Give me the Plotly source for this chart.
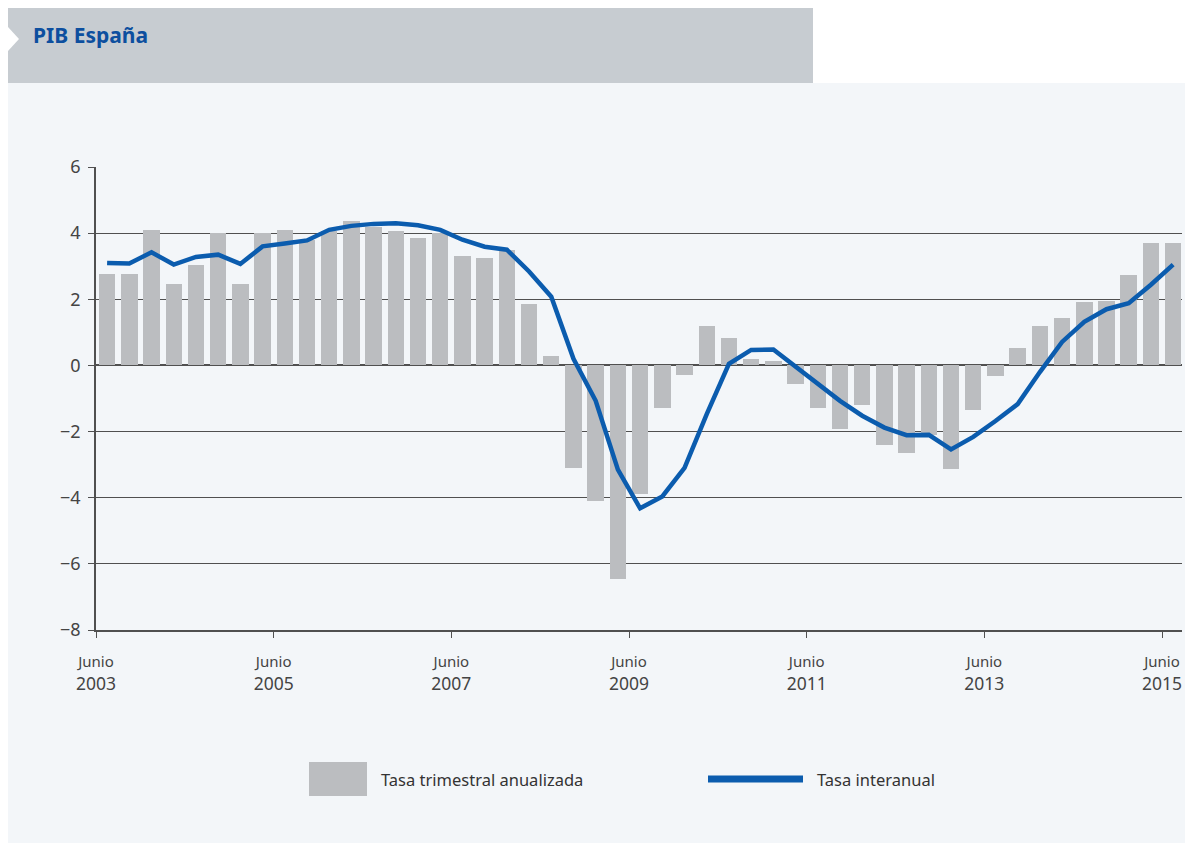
import plotly.graph_objects as go

# ---- data ----
quarter_index = list(range(49))  # Q2 2003 ... Q2 2015
tasa_trimestral = [2.75, 2.75, 4.1, 2.45, 3.05, 4.0, 2.45, 4.0, 4.1, 3.8,
                   4.05, 4.38, 4.2, 4.05, 3.85, 4.0, 3.3, 3.25, 3.5, 1.85,
                   0.3, -3.1, -4.1, -6.47, -3.9, -1.28, -0.3, 1.2, 0.82, 0.2,
                   0.12, -0.57, -1.28, -1.93, -1.2, -2.42, -2.64, -2.1, -3.12, -1.34,
                   -0.33, 0.54, 1.19, 1.42, 1.93, 1.95, 2.74, 3.7, 3.7]
tasa_interanual = [3.1, 3.08, 3.42, 3.05, 3.28, 3.35, 3.07, 3.6, 3.69, 3.78,
                   4.1, 4.22, 4.28, 4.3, 4.24, 4.1, 3.8, 3.59, 3.5, 2.84,
                   2.08, 0.2, -1.07, -3.15, -4.32, -3.96, -3.1, -1.47, 0.05, 0.47,
                   0.48, -0.05, -0.56, -1.07, -1.52, -1.88, -2.11, -2.1, -2.54, -2.16,
                   -1.68, -1.17, -0.2, 0.71, 1.32, 1.7, 1.88, 2.44, 3.05]
tick_positions = [-0.5, 7.5, 15.5, 23.5, 31.5, 39.5, 47.5]
tick_years = ["2003", "2005", "2007", "2009", "2011", "2013", "2015"]
y_ticks = [6, 4, 2, 0, -2, -4, -6, -8]

# ---- style ----
OFF = 8  # default page margin of the html body
SW, SH = 1193, 843  # screen size
W, H = SW - OFF, SH - OFF
# plot area in screen coordinates
PL, PR, PT, PB = 96, 1182, 167, 630
L, T = PL - OFF, PT - OFF
R, B = SW - PR, SH - PB
PW, PH = PR - PL, PB - PT
BAR = "#bbbdc0"
BLUE = "#0b5cae"
GRID = "#505050"
PANEL = "#f3f6f9"
HEADER = "#c7ccd1"
FONT = "Noto Sans"


def px(x):
    return (x - PL) / PW


def py(y):
    return (PB - y) / PH


fig = go.Figure()
fig.add_trace(go.Bar(x=quarter_index, y=tasa_trimestral, name="Tasa trimestral anualizada",
                     marker=dict(color=BAR, line=dict(width=0)), width=0.74,
                     showlegend=False))
fig.add_trace(go.Scatter(x=quarter_index, y=tasa_interanual, name="Tasa interanual",
                         mode="lines", line=dict(color=BLUE, width=4.5),
                         showlegend=False))

shapes = [
    # panel background
    dict(type="rect", xref="paper", yref="paper", x0=px(OFF - 1), x1=px(SW + 5), y0=py(SH + 5), y1=py(83),
         fillcolor=PANEL, line=dict(width=0), layer="below"),
    # header band
    dict(type="rect", xref="paper", yref="paper", x0=px(OFF - 1), x1=px(813), y0=py(83), y1=py(OFF - 1),
         fillcolor=HEADER, line=dict(width=0), layer="below"),
    # header triangle
    dict(type="path", xref="paper", yref="paper",
         path=f"M {px(OFF - 1)},{py(26)} L {px(19)},{py(39)} L {px(OFF - 1)},{py(52)} Z",
         fillcolor="white", line=dict(width=0), layer="below"),
    # legend: gray box
    dict(type="rect", xref="paper", yref="paper", x0=px(309), x1=px(367), y0=py(796), y1=py(762),
         fillcolor=BAR, line=dict(width=0)),
    # legend: blue line
    dict(type="line", xref="paper", yref="paper", x0=px(708), x1=px(803), y0=py(779), y1=py(779),
         line=dict(color=BLUE, width=7)),
]

annotations = [
    dict(text="<b>PIB España</b>", xref="paper", yref="paper", x=px(31), y=py(35),
         xanchor="left", yanchor="middle", showarrow=False,
         font=dict(family=FONT, size=21, color="#0d4f9f")),
    dict(text="Tasa trimestral anualizada", xref="paper", yref="paper", x=px(379), y=py(779),
         xanchor="left", yanchor="middle", showarrow=False,
         font=dict(family=FONT, size=16.5, color="#333333")),
    dict(text="Tasa interanual", xref="paper", yref="paper", x=px(815), y=py(779),
         xanchor="left", yanchor="middle", showarrow=False,
         font=dict(family=FONT, size=16.5, color="#333333")),
]

tick_text = [f"<span style='font-size:15px'>Junio</span><br>{y}" for y in tick_years]

fig.update_layout(
    width=W, height=H,
    margin=dict(l=L, r=R, t=T, b=B, pad=0),
    paper_bgcolor="white",
    plot_bgcolor="rgba(0,0,0,0)",
    font=dict(family=FONT, color="#444444"),
    shapes=shapes,
    annotations=annotations,
    bargap=0,
    showlegend=False,
    xaxis=dict(
        range=[-0.5, 48.4], tickmode="array", tickvals=tick_positions, ticktext=tick_text,
        showgrid=False, zeroline=False, showline=True, linecolor=GRID, linewidth=1.5,
        ticks="outside", ticklen=6, tickwidth=1.2, tickcolor=GRID,
        tickfont=dict(family=FONT, size=17.5, color="#444444"),
        ticklabelstandoff=8, fixedrange=True,
    ),
    yaxis=dict(
        range=[-8, 6], tickmode="array", tickvals=y_ticks,
        ticktext=[str(v).replace("-", "−") for v in y_ticks],
        showgrid=True, gridcolor=GRID, gridwidth=1.3,
        zeroline=True, zerolinecolor=GRID, zerolinewidth=1.5,
        showline=True, linecolor=GRID, linewidth=1.5,
        ticks="outside", ticklen=6, tickwidth=1.2, tickcolor=GRID,
        tickfont=dict(family=FONT, size=18, color="#444444"),
        ticklabelstandoff=4, fixedrange=True,
    ),
)

fig.write_html("out.html")
